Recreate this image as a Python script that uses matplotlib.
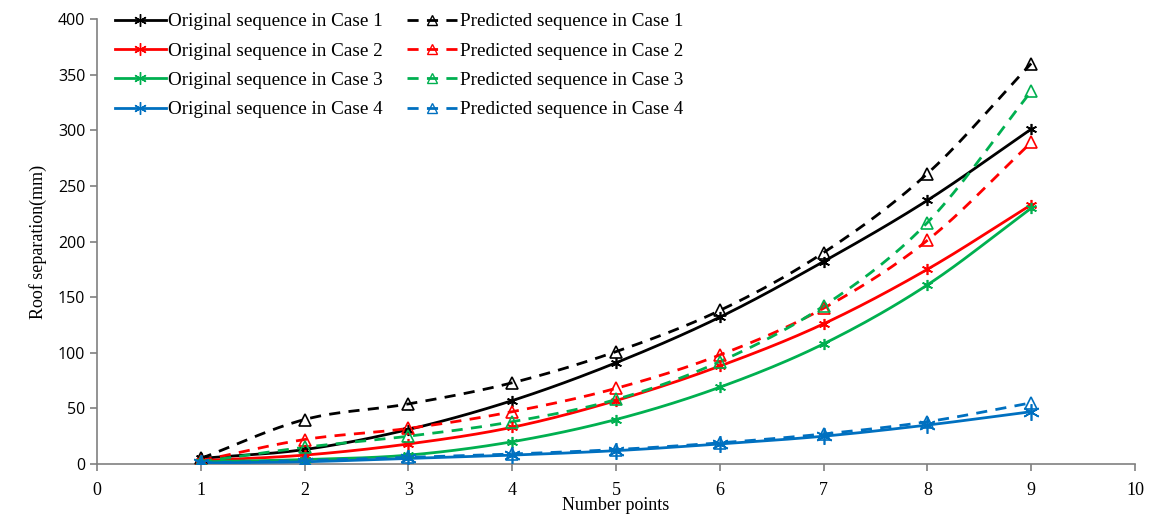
import numpy as np
import matplotlib
matplotlib.use("Agg")
import matplotlib.pyplot as plt

x_points = [1, 2, 3, 4, 5, 6, 7, 8, 9]
orig_case1 = [5, 13, 31, 57, 91, 132, 182, 237, 301]
pred_case1 = [5, 40, 54, 73, 101, 138, 190, 261, 360]
orig_case2 = [3, 8, 18, 33, 57, 88, 126, 175, 233]
pred_case2 = [3, 22, 32, 47, 68, 98, 140, 201, 289]
orig_case3 = [2, 4, 8, 20, 40, 69, 108, 161, 230]
pred_case3 = [2, 15, 25, 38, 58, 92, 142, 217, 335]
orig_case4 = [1, 2, 5, 8, 12, 18, 25, 35, 47]
pred_case4 = [1, 3, 6, 9, 13, 19, 27, 38, 55]

labels_orig = ["Original sequence in Case %d" % i for i in range(1, 5)]
labels_pred = ["Predicted sequence in Case %d" % i for i in range(1, 5)]
colors = ["#000000", "#FF0000", "#00B050", "#0070C0"]


def smooth(xs, ys, n=20):
    # Catmull-Rom spline through the points (Excel-like smoothed line)
    xs = np.asarray(xs, float)
    ys = np.asarray(ys, float)
    px = np.concatenate([[2 * xs[0] - xs[1]], xs, [2 * xs[-1] - xs[-2]]])
    py = np.concatenate([[2 * ys[0] - ys[1]], ys, [2 * ys[-1] - ys[-2]]])
    ox, oy = [], []
    t = np.linspace(0, 1, n, endpoint=False)
    h00 = 2 * t**3 - 3 * t**2 + 1
    h10 = t**3 - 2 * t**2 + t
    h01 = -2 * t**3 + 3 * t**2
    h11 = t**3 - t**2
    for i in range(1, len(px) - 2):
        for arr, out in ((px, ox), (py, oy)):
            p0, p1, p2, p3 = arr[i - 1], arr[i], arr[i + 1], arr[i + 2]
            m1 = (p2 - p0) / 2
            m2 = (p3 - p1) / 2
            out.extend(h00 * p1 + h10 * m1 + h01 * p2 + h11 * m2)
    ox.append(xs[-1])
    oy.append(ys[-1])
    return np.array(ox), np.array(oy)


fig = plt.figure(figsize=(11.51, 5.17), dpi=100)
ax = fig.add_axes([97 / 1151, 1 - 464 / 517, (1135 - 97) / 1151, (464 - 19) / 517])

origs = [orig_case1, orig_case2, orig_case3, orig_case4]
preds = [pred_case1, pred_case2, pred_case3, pred_case4]
star = (6, 2, 0)

handles_o, handles_p = [], []
for i in range(4):
    c = colors[i]
    ms = 12 if i == 3 else 8
    sx, sy = smooth(x_points, origs[i])
    ax.plot(sx, sy, color=c, lw=2.0, zorder=3)
    ax.plot(x_points, origs[i], ls="none", marker=star, ms=ms, mec=c, mew=1.2, zorder=4)
    h1, = ax.plot([], [], color=c, lw=2.0, marker=star, ms=9, mec=c, mew=1.0, label=labels_orig[i])
    handles_o.append(h1)

    sx, sy = smooth(x_points, preds[i])
    ax.plot(sx, sy, color=c, lw=2.0, ls=(0, (4, 3)), zorder=3)
    ax.plot(x_points, preds[i], ls="none", marker="^", ms=9 if i == 3 else 8, mfc="none",
            mec=c, mew=1.2, zorder=4)
    h2, = ax.plot([], [], color=c, lw=2.0, ls=(0, (4, 3)), marker="^", ms=7, mfc="none",
                  mec=c, mew=1.0, label=labels_pred[i])
    handles_p.append(h2)

ax.set_xlim(0, 10)
ax.set_ylim(0, 400)
ax.set_xticks(range(0, 11))
ax.set_yticks(range(0, 401, 50))

for s in ["top", "right"]:
    ax.spines[s].set_visible(False)
for s in ["left", "bottom"]:
    ax.spines[s].set_color("#808080")
    ax.spines[s].set_linewidth(1.2)
ax.tick_params(axis="both", direction="out", color="#808080", length=5, width=1.2)
for lab in ax.get_yticklabels():
    lab.set_fontfamily("Open Sans")
    lab.set_fontsize(11.5)
for lab in ax.get_xticklabels():
    lab.set_fontfamily("Liberation Serif")
    lab.set_fontsize(13)
ax.tick_params(axis="x", pad=8)

ax.set_xlabel("Number points", fontfamily="Liberation Serif", fontsize=13)
ax.xaxis.set_label_coords(0.5, -33 / 445)
ax.set_ylabel("Roof separation(mm)", fontfamily="Liberation Serif", fontsize=13, labelpad=8)

leg = fig.legend(handles=handles_o + handles_p, ncol=2, loc="upper left",
                 bbox_to_anchor=(115 / 1151, 1 - 13 / 517), bbox_transform=fig.transFigure,
                 frameon=False, borderpad=0, borderaxespad=0,
                 prop={"family": "Liberation Serif", "size": 13.8},
                 handlelength=2.65, handletextpad=0.12, columnspacing=1.25,
                 labelspacing=0.62)

fig.savefig("out.png", dpi=100)
